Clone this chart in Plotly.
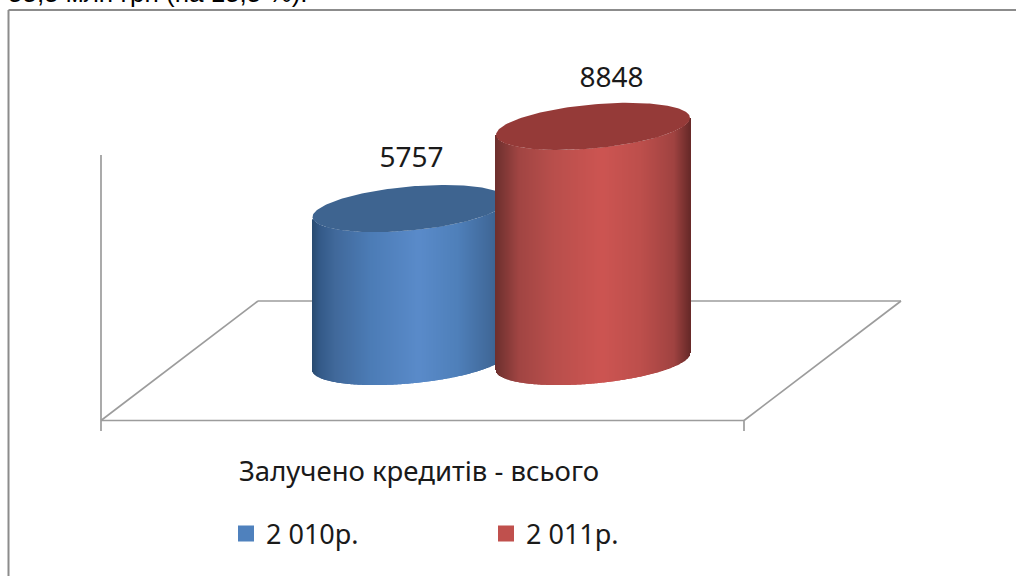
import numpy as np
import plotly.graph_objects as go

# ---- data ----
series_names = ["2 010р.", "2 011р."]
series_values = [5757, 8848]
category_title = "Залучено кредитів - всього"
clipped_text = "55,5 млн грн (на 15,5 %)."
legend_colors = ["#4f81bd", "#c0504d"]
top_colors = ["#3e6490", "#953a38"]
# left-to-right shading of each cylinder
shade_pos = [0.0, 0.04, 0.12, 0.3, 0.55, 0.75, 0.92, 1.0]
shade_blue = ["#294a70", "#345a88", "#41699b", "#4c7cb6", "#5a8bca", "#4f80ba", "#41699a", "#355a85"]
shade_red = ["#6e2f2e", "#7e3735", "#a14543", "#b94f4c", "#cd5552", "#bd4f4c", "#a04341", "#692a29"]

# ---- drawing geometry (page is 1016 x 576, plot fills it) ----
W, H = 1016, 576
PX_PER_UNIT = 0.02657
BASE_PX = 361.5
centers = [409.5, 593.0]
R = 97.0
SHEAR = 8.5
DEPTH = 22.0
label_x = [411.5, 611.5]
label_gap = [48.5, 46.5]


def to_units(px):
    return px / PX_PER_UNIT


def py(p):
    return 1 - p / H


def shade(stops, u):
    rgb = np.array([[int(c[i:i + 2], 16) for i in (1, 3, 5)] for c in stops], float)
    vals = [np.interp(u, shade_pos, rgb[:, k]) for k in range(3)]
    return [f"rgb({int(a)},{int(b)},{int(c)})" for a, b, c in zip(*vals)]


fig = go.Figure()

for i, (name, value, cx) in enumerate(zip(series_names, series_values, centers)):
    # the second cylinder lives on an overlaying pair of axes so it paints over the first
    ax = dict(xaxis="x", yaxis="y") if i == 0 else dict(xaxis="x2", yaxis="y2")
    xs = np.arange(np.ceil(cx - R), np.floor(cx + R) + 1)
    c = np.clip((xs - cx) / R, -1, 1)
    low = to_units(SHEAR * c - DEPTH * np.sqrt(1 - c ** 2))
    stops = shade_blue if i == 0 else shade_red
    fig.add_trace(go.Bar(
        x=xs, y=[value] * len(xs), base=low, width=1.0,
        marker=dict(color=shade(stops, (c + 1) / 2), line=dict(width=0)),
        showlegend=False, hoverinfo="skip", name=name, **ax,
    ))
    t = np.linspace(0, 2 * np.pi, 200)
    fig.add_trace(go.Scatter(
        x=cx + R * np.cos(t),
        y=value + to_units(SHEAR * np.cos(t) + DEPTH * np.sin(t)),
        mode="lines", fill="toself", fillcolor=top_colors[i],
        line=dict(width=0, color=top_colors[i]),
        showlegend=False, hoverinfo="skip", **ax,
    ))
    fig.add_trace(go.Scatter(
        x=[label_x[i]], y=[value + to_units(label_gap[i])],
        mode="text", text=[str(value)], textposition="middle center",
        textfont=dict(family="Noto Sans", size=28, color="#1a1a1a"),
        showlegend=False, hoverinfo="skip", **ax,
    ))
    fig.add_trace(go.Scatter(
        x=[None], y=[None], mode="markers", name=name,
        marker=dict(symbol="square", size=16, color=legend_colors[i]), **ax,
    ))

GRID = "#9c9c9c"
FRAME = "#8c8c8c"
lines = [
    (8.5, 576, 8.5, 10, FRAME, 2),
    (8.5, 10, 1016, 10, FRAME, 2),
    (101, 155, 101, 431, GRID, 1.7),
    (101, 420.5, 744, 420.5, GRID, 1.7),
    (744, 420.5, 744, 431, GRID, 1.7),
    (101, 420.5, 258, 301, GRID, 1.7),
    (744, 420.5, 901, 301, GRID, 1.7),
    (258, 301, 901, 301, GRID, 1.7),
]
shapes = [dict(type="line", xref="x", yref="paper", x0=a, y0=py(b), x1=c, y1=py(d),
               layer="below", line=dict(color=col, width=w))
          for a, b, c, d, col, w in lines]

x_range = [0, W]
y_range = [to_units(BASE_PX - H), to_units(BASE_PX)]
fig.update_layout(
    width=W, height=H, autosize=False,
    margin=dict(l=0, r=0, t=0, b=0),
    paper_bgcolor="white", plot_bgcolor="rgba(0,0,0,0)",
    barmode="overlay", shapes=shapes,
    xaxis=dict(range=x_range, visible=False, fixedrange=True),
    yaxis=dict(range=y_range, visible=False, fixedrange=True),
    xaxis2=dict(range=x_range, visible=False, fixedrange=True, overlaying="x"),
    yaxis2=dict(range=y_range, visible=False, fixedrange=True, overlaying="y"),
    title=dict(text=category_title, x=419 / W, xanchor="center", y=py(471), yanchor="middle",
               font=dict(family="Noto Sans", size=27.5, color="#1a1a1a")),
    legend=dict(orientation="h", x=226 / W, xanchor="left", y=py(534), yanchor="middle",
                entrywidth=215, entrywidthmode="pixels", bgcolor="rgba(0,0,0,0)",
                font=dict(family="Noto Sans", size=27, color="#1a1a1a"),
                itemclick=False, itemdoubleclick=False),
    annotations=[dict(text=clipped_text, xref="paper", yref="paper", x=7 / W, y=py(9),
                      xanchor="left", yanchor="bottom", showarrow=False, borderpad=0,
                      font=dict(family="Liberation Sans", size=26, color="#000000"))],
)

fig.write_html("out.html", config=dict(displayModeBar=False),
               post_script="document.body.style.margin='0';document.body.style.overflow='hidden';")
